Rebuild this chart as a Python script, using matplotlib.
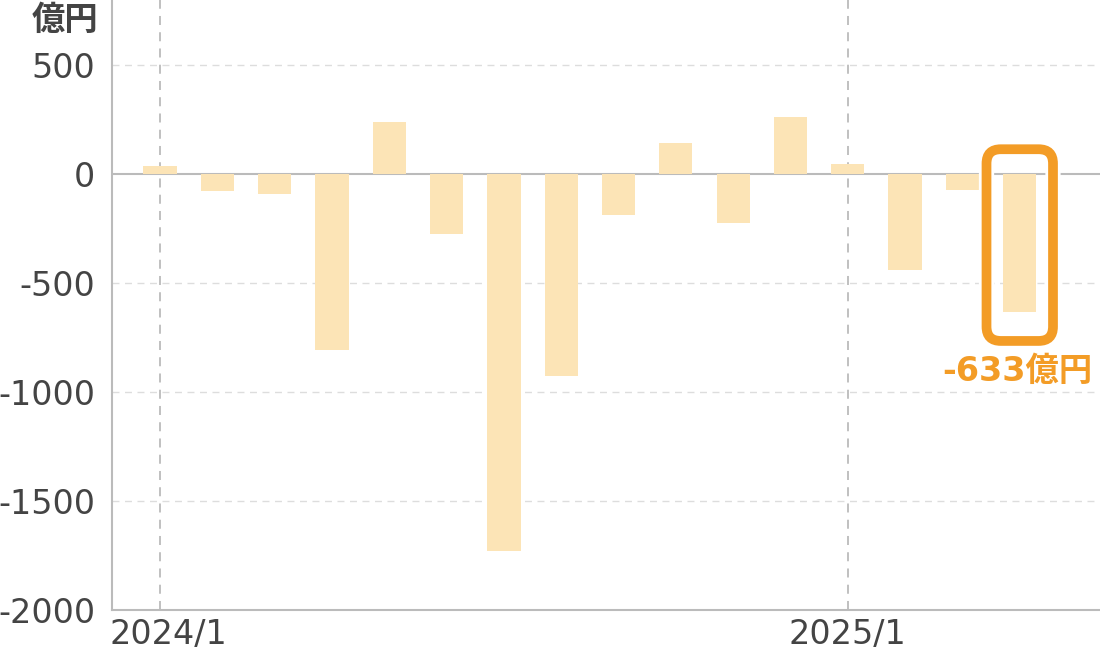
import matplotlib
matplotlib.use("Agg")
import matplotlib.pyplot as plt
import matplotlib.transforms as mtrans
from matplotlib.patches import FancyBboxPatch
import numpy as np

plt.rcParams["font.family"] = ["DejaVu Sans", "Noto Sans CJK JP"]

# monthly values (億円), 2024/1 .. 2025/4
months = ["2024/1", "2024/2", "2024/3", "2024/4", "2024/5", "2024/6", "2024/7", "2024/8",
          "2024/9", "2024/10", "2024/11", "2024/12", "2025/1", "2025/2", "2025/3", "2025/4"]
values = [38, -75, -90, -805, 240, -275, -1730, -925,
          -185, 145, -225, 265, 45, -440, -70, -633]
year_ticks = ["2024/1", "2025/1"]
y_ticks = [500, 0, -500, -1000, -1500, -2000]

BAR = "#FCE4B6"
ORANGE = "#F39C26"
TEXT = "#444444"
GRID = "#DDDDDD"

fig = plt.figure(figsize=(11, 6.58), dpi=100)
ax = fig.add_axes([112 / 1100, 48 / 658, 988 / 1100, 610 / 658])

x = np.arange(len(months))
ax.bar(x, values, width=0.58, color=BAR, zorder=3)

ax.set_ylim(-2000, 800)
ax.set_xlim(-0.837, 16.4)
ax.set_yticks(y_ticks)
ax.set_yticklabels([str(v) for v in y_ticks])
for v in y_ticks:
    if v != 0:
        ax.axhline(v, color=GRID, lw=1, ls=(0, (5, 4)), zorder=1)
ax.axhline(0, color="#BBBBBB", lw=1.5, zorder=2)

xt = [months.index(m) for m in year_ticks]
ax.set_xticks(xt)
ax.set_xticklabels(year_ticks)
for t in xt:
    ax.axvline(t, color="#BBBBBB", lw=1.3, ls=(0, (5, 4)), zorder=1)

ax.tick_params(length=0, labelsize=24, labelcolor=TEXT, pad=6)
ax.tick_params(axis="y", pad=12)
# first year label sits a little to the right, as in the source
first = ax.get_xticklabels()[0]
first.set_transform(first.get_transform() + mtrans.ScaledTranslation(0.08, 0, fig.dpi_scale_trans))
for s in ("top", "right"):
    ax.spines[s].set_visible(False)
for s in ("left", "bottom"):
    ax.spines[s].set_color("#BBBBBB")
    ax.spines[s].set_linewidth(1.5)

# highlight box around the latest month
last = len(values) - 1
aspect = (988 / (16.4 + 0.837)) / (610 / 2800)
for ec, lw, z in (("white", 11, 4), (ORANGE, 7, 5)):
    box = FancyBboxPatch((last - 0.58, -765), 1.16, 880,
                         boxstyle="round,pad=0,rounding_size=0.25",
                         mutation_aspect=aspect, fc="none", ec=ec, lw=lw,
                         zorder=z, clip_on=False)
    ax.add_patch(box)

ax.text(last - 0.05, -830, f"{values[last]}億円", color=ORANGE, fontsize=24,
        fontweight="bold", ha="center", va="top", zorder=6)

fig.text(98 / 1100, 1 - 20 / 658, "億円", color=TEXT, fontsize=24,
         fontweight="bold", ha="right", va="center")

fig.savefig("out.png", dpi=100, facecolor="white")
